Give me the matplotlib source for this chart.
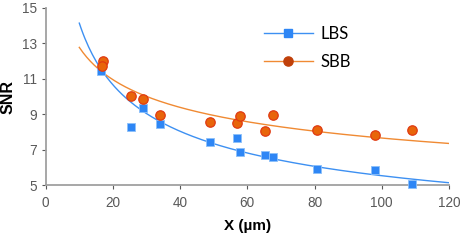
import numpy as np
import matplotlib
matplotlib.use('Agg')
import matplotlib.pyplot as plt

plt.rcParams['font.family'] = ['Liberation Sans', 'DejaVu Sans']

# 数据
lbs_x = [16.5, 25.4, 29.0, 34.0, 48.8, 56.9, 57.8, 65.3, 67.6, 80.7, 98.0, 109.1]
lbs_y = [11.47, 8.31, 9.33, 8.46, 7.43, 7.69, 6.90, 6.71, 6.60, 5.94, 5.86, 5.06]
sbb_x = [17.0, 16.7, 25.4, 29.0, 34.0, 48.8, 56.8, 57.8, 65.3, 67.6, 80.7, 98.0, 109.1]
sbb_y = [12.02, 11.70, 10.05, 9.86, 8.95, 8.58, 8.50, 8.90, 8.07, 8.96, 8.12, 7.86, 8.14]

# 幂函数趋势线 y = a * x^b（系数从图中估计）
lbs_fit = (36.1, -0.407)
sbb_fit = (21.3, -0.222)
fit_range = (10, 120)

xticks = [0, 20, 40, 60, 80, 100, 120]
yticks = [5, 7, 9, 11, 13, 15]

fig = plt.figure(figsize=(4.64, 2.4), dpi=100)
ax = fig.add_axes([0.0985, 0.228, 0.869, 0.739])

xf = np.linspace(fit_range[0], fit_range[1], 200)

blue = '#2E86F5'
blue_line = '#3D90F2'
orange = '#F08A33'
ax.plot(xf, lbs_fit[0] * xf ** lbs_fit[1], color=blue_line, lw=1)
ax.plot(xf, sbb_fit[0] * xf ** sbb_fit[1], color=orange, lw=1)
ax.scatter(lbs_x, lbs_y, marker='s', s=34, color=blue, edgecolors='#8CC0FA',
           linewidths=0.6, zorder=3, clip_on=False)
ax.scatter(sbb_x, sbb_y, marker='o', s=46, color='#E8650A', edgecolors='#E03A12',
           linewidths=0.9, zorder=4, clip_on=False)

# 图例
h1, = ax.plot([], [], color=blue_line, lw=1, marker='s', ms=5.8,
              mfc=blue, mec=blue)
h2, = ax.plot([], [], color=orange, lw=1, marker='o', ms=6.6,
              mfc='#C0400A', mec='#C0400A')
ax.legend([h1, h2], ['LBS', 'SBB'], loc='upper left', bbox_to_anchor=(0.505, 0.985),
          frameon=False, handlelength=2.9, handletextpad=0.45, labelspacing=0.75,
          prop={'family': 'Lato', 'size': 12})

ax.set_xlim(0, 120)
ax.set_ylim(5, 15)
ax.set_xticks(xticks)
ax.set_yticks(yticks)
ax.tick_params(labelsize=9.8, colors='#595959', length=3, width=0.8)
ax.tick_params(axis='x', pad=4.5)
for s in ['top', 'right']:
    ax.spines[s].set_visible(False)
for s in ['left', 'bottom']:
    ax.spines[s].set_color('#A0A0A0')
    ax.spines[s].set_linewidth(1.3)
ax.set_xlabel('X (µm)', fontsize=11, fontweight='bold', labelpad=7)
ax.set_ylabel('SNR', fontsize=11.5, fontweight='bold', labelpad=4)

fig.savefig('out.png', dpi=100)
